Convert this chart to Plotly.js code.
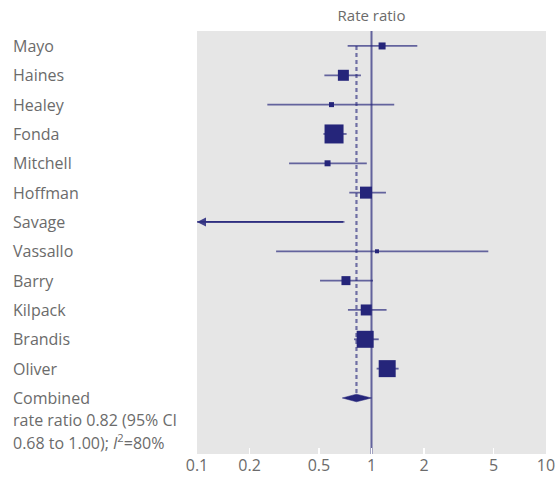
<!DOCTYPE html>
<html>
<head>
<meta charset="utf-8">
<script src="https://cdn.plot.ly/plotly-3.0.1.min.js"></script>
<style>html,body{margin:0;padding:0;background:#fff}#chart{width:558px;height:477px}</style>
</head>
<body>
<div id="chart"></div>
<script>
// ---- data ----
const studies = ["Mayo","Haines","Healey","Fonda","Mitchell","Hoffman","Savage","Vassallo","Barry","Kilpack","Brandis","Oliver"];
const rateRatio = [1.15, 0.69, 0.59, 0.61, 0.56, 0.93, null, 1.075, 0.714, 0.933, 0.92, 1.23];
const lowerCI   = [0.73, 0.537, 0.253, 0.53, 0.337, 0.746, 0.05, 0.284, 0.507, 0.733, 0.794, 1.07];
const upperCI   = [1.83, 0.87, 1.35, 0.72, 0.94, 1.21, 0.70, 4.67, 1.02, 1.22, 1.10, 1.43];
const weights   = [7, 11, 5, 19, 6, 12, 0, 4, 9, 11, 17, 17];
const combinedLines = ["Combined", "rate ratio 0.82 (95% CI", "0.68 to 1.00); <i>I</i><sup>2</sup>=80%"];
const combined = {est: 0.82, lo: 0.68, hi: 1.00};
const tickVals = [0.1, 0.2, 0.5, 1, 2, 5, 10];
const tickText = ["0.1","0.2","0.5","1","2","5","10"];

// ---- styles ----
const navy = "#25257a";
const lineCol = "rgba(37,37,122,0.68)";
const textCol = "#6b6b6b";
const font = "'Open Sans', 'Noto Sans', sans-serif";
const xMin = 0.1, xMax = 10;
const yTop = -0.51, yBot = 13.91;
const combinedRow = studies.length;
const lineStep = 0.75;

const traces = [];
// reference line at 1
traces.push({x:[1,1], y:[yTop,yBot], mode:"lines", line:{color:lineCol, width:2}, hoverinfo:"skip", showlegend:false});
// dashed combined line
traces.push({x:[combined.est,combined.est], y:[0,combinedRow], mode:"lines", line:{color:"rgba(37,37,122,0.62)", width:2.2, dash:"4px,3px"}, hoverinfo:"skip", showlegend:false});
// CI lines
studies.forEach((s,i)=>{
  const lo = Math.max(lowerCI[i], xMin);
  traces.push({x:[lo, upperCI[i]], y:[i,i], mode:"lines", line:{color:lineCol, width:1.8}, hoverinfo:"skip", showlegend:false});
});
// squares
traces.push({x:rateRatio, y:studies.map((s,i)=>i), mode:"markers", marker:{symbol:"square", color:navy, opacity:1, size:weights, line:{width:0}}, showlegend:false});
// diamond
const dh = 0.13;
traces.push({x:[combined.lo, combined.est, combined.hi, combined.est, combined.lo], y:[combinedRow, combinedRow-dh, combinedRow, combinedRow+dh, combinedRow], mode:"lines", fill:"toself", fillcolor:navy, line:{color:navy, width:0.5}, hoverinfo:"skip", showlegend:false});

const annotations = studies.map((s,i)=>({text:s, xref:"paper", yref:"y", x:-0.533, y:i, xanchor:"left", yanchor:"middle", showarrow:false, font:{family:font, size:16, color:textCol}}));
combinedLines.forEach((t,k)=>{
  annotations.push({text:t, xref:"paper", yref:"y", x:-0.533, y:combinedRow+k*lineStep, xanchor:"left", yanchor:"middle", align:"left", showarrow:false, font:{family:font, size:16, color:textCol}});
});
// arrows for CIs extending beyond the axis
studies.forEach((s,i)=>{
  if (lowerCI[i] < xMin) {
    annotations.push({x:Math.log10(xMin), y:i, xref:"x", yref:"y", axref:"x", ayref:"y", ax:Math.log10(upperCI[i]), ay:i, text:"", showarrow:true, arrowhead:2, arrowsize:1.0, arrowwidth:1.8, arrowcolor:"rgba(37,37,122,0.85)", standoff:0});
  }
});

const layout = {
  width:558, height:477,
  margin:{l:197, r:12, t:31, b:23},
  paper_bgcolor:"#ffffff", plot_bgcolor:"#e6e6e6",
  title:{text:"Rate ratio", font:{family:font, size:15, color:textCol}, x:0.5, xref:"paper", xanchor:"center", y:1-16/477, yanchor:"middle"},
  xaxis:{type:"log", range:[Math.log10(xMin), Math.log10(xMax)], tickvals:tickVals, ticktext:tickText, ticks:"inside", ticklen:6, tickwidth:1.5, tickcolor:"#ffffff", showgrid:false, zeroline:false, showline:false, tickfont:{family:font, size:16, color:textCol}, fixedrange:true},
  yaxis:{range:[yBot, yTop], showticklabels:false, showgrid:false, zeroline:false, ticks:"", fixedrange:true},
  annotations:annotations,
  showlegend:false
};
Plotly.newPlot("chart", traces, layout, {displayModeBar:false, staticPlot:true});
</script>
</body>
</html>
